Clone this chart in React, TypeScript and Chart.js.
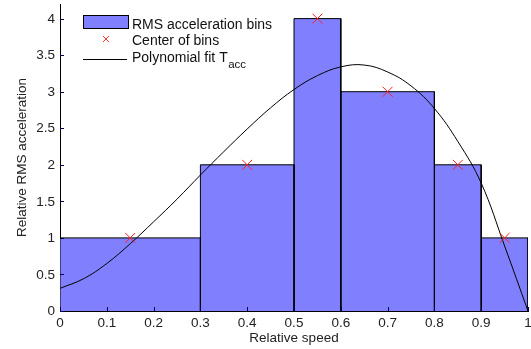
import React, { useEffect, useRef } from 'react';
import { Chart, registerables } from 'chart.js';

Chart.register(...registerables);

// ---- data ----
const binEdges = [0, 0.3, 0.5, 0.6, 0.8, 0.9, 1.0];
const binHeights = [1, 2, 4, 3, 2, 1];
const binCenters = [0.15, 0.4, 0.55, 0.7, 0.85, 0.95];
const centerValues = [1, 2, 4, 3, 2, 1];
const fitX = [0, 0.05, 0.1, 0.15, 0.2, 0.25, 0.3, 0.35, 0.4, 0.45, 0.5, 0.55, 0.6, 0.65, 0.7, 0.75, 0.8, 0.85, 0.9, 0.95, 1.0];
const fitY = [0.31, 0.44, 0.65, 0.92, 1.22, 1.53, 1.86, 2.18, 2.49, 2.78, 3.03, 3.22, 3.34, 3.365, 3.27, 3.08, 2.77, 2.32, 1.75, 0.89, 0.0];
const xTickValues = [0, 0.1, 0.2, 0.3, 0.4, 0.5, 0.6, 0.7, 0.8, 0.9, 1];
const yTickValues = [0, 0.5, 1, 1.5, 2, 2.5, 3, 3.5, 4];
const legendLabels = ['RMS acceleration bins', 'Center of bins', 'Polynomial fit T'];
const legendSubscript = 'acc';
const xTitle = 'Relative speed';
const yTitle = 'Relative RMS acceleration';

const FONT = "'Liberation Sans', Arial, Helvetica, sans-serif";
const BAR_FILL = 'rgb(128,128,255)';
const TEXT = '#222';

const fmt = (v: number) => String(Math.round(v * 10) / 10);

const axisDecor = {
  id: 'axisDecor',
  afterDatasetsDraw(chart: any) {
    const { ctx, chartArea, scales } = chart;
    ctx.save();
    // inward tick marks
    ctx.strokeStyle = '#000050';
    ctx.lineWidth = 1;
    ctx.beginPath();
    for (const v of xTickValues) {
      const px = Math.round(scales.x.getPixelForValue(v)) + 0.5;
      ctx.moveTo(px, chartArea.bottom);
      ctx.lineTo(px, chartArea.bottom - 4);
    }
    for (const v of yTickValues) {
      const py = Math.round(scales.y.getPixelForValue(v)) + 0.5;
      ctx.moveTo(chartArea.left, py);
      ctx.lineTo(chartArea.left + 4, py);
    }
    ctx.stroke();
    // tick labels
    ctx.fillStyle = TEXT;
    ctx.font = `13.5px ${FONT}`;
    ctx.textAlign = 'center';
    ctx.textBaseline = 'alphabetic';
    for (const v of xTickValues) {
      const px = scales.x.getPixelForValue(v);
      ctx.fillText(fmt(v), px, chartArea.bottom + 16);
    }
    ctx.textAlign = 'right';
    ctx.textBaseline = 'middle';
    for (const v of yTickValues) {
      const py = scales.y.getPixelForValue(v);
      ctx.fillText(fmt(v), chartArea.left - 5, py + 0.5);
    }
    ctx.restore();
  },
};

const customLegend = {
  id: 'customLegend',
  afterDraw(chart: any) {
    const { ctx } = chart;
    ctx.save();
    const x0 = 83;
    const x1 = 128;
    const tx = 132;
    // row 1: bar swatch
    ctx.fillStyle = BAR_FILL;
    ctx.fillRect(x0, 15, x1 - x0, 13);
    ctx.strokeStyle = '#000';
    ctx.lineWidth = 1;
    ctx.strokeRect(x0 + 0.5, 15.5, x1 - x0, 13);
    ctx.fillStyle = '#111';
    ctx.font = `14px ${FONT}`;
    ctx.textBaseline = 'alphabetic';
    ctx.textAlign = 'left';
    ctx.fillText(legendLabels[0], tx, 29);
    // row 2: marker
    ctx.strokeStyle = '#ff3030';
    ctx.beginPath();
    const mx = 106, my = 39, r = 3;
    ctx.moveTo(mx - r, my - r);
    ctx.lineTo(mx + r, my + r);
    ctx.moveTo(mx - r, my + r);
    ctx.lineTo(mx + r, my - r);
    ctx.stroke();
    ctx.fillText(legendLabels[1], tx, 45);
    // row 3: line
    ctx.strokeStyle = '#000';
    ctx.beginPath();
    ctx.moveTo(x0, 59.5);
    ctx.lineTo(x1 - 1, 59.5);
    ctx.stroke();
    ctx.fillText(legendLabels[2], tx, 62);
    const w = ctx.measureText(legendLabels[2]).width;
    ctx.font = `11.5px ${FONT}`;
    ctx.fillText(legendSubscript, tx + w + 0.5, 68);
    ctx.restore();
  },
};

export default function App() {
  const ref = useRef<HTMLCanvasElement | null>(null);

  useEffect(() => {
    if (!ref.current) return;
    const binDatasets = binHeights.map((h, i) => ({
      type: 'line' as const,
      label: legendLabels[0],
      data: [
        { x: binEdges[i], y: 0 },
        { x: binEdges[i], y: h },
        { x: binEdges[i + 1], y: h },
        { x: binEdges[i + 1], y: 0 },
      ],
      fill: 'origin',
      backgroundColor: BAR_FILL,
      borderColor: '#000',
      borderWidth: 1,
      pointRadius: 0,
      tension: 0,
      order: 3,
    }));

    const chart = new Chart(ref.current, {
      type: 'line',
      data: {
        datasets: [
          {
            label: legendLabels[1],
            data: binCenters.map((x, i) => ({ x, y: centerValues[i] })),
            showLine: false,
            pointStyle: 'crossRot',
            pointRadius: 7,
            pointBorderColor: '#ff2020',
            pointBorderWidth: 1,
            pointBackgroundColor: 'transparent',
            clip: false,
            order: 0,
          } as any,
          {
            label: legendLabels[2],
            data: fitX.map((x, i) => ({ x, y: fitY[i] })),
            borderColor: '#000',
            borderWidth: 1,
            pointRadius: 0,
            tension: 0.4,
            fill: false,
            order: 1,
          } as any,
          ...(binDatasets as any[]),
        ],
      },
      options: {
        animation: false,
        responsive: false,
        devicePixelRatio: 1,
        layout: { autoPadding: false, padding: { top: 4, right: 3, left: 0, bottom: 0 } },
        plugins: {
          legend: { display: false },
          tooltip: { enabled: false },
        },
        scales: {
          x: {
            type: 'linear',
            min: 0,
            max: 1,
            grid: { display: false, drawTicks: false },
            border: { display: true, color: '#000', width: 1 },
            afterBuildTicks: (scale: any) => {
              scale.ticks = xTickValues.map((v) => ({ value: v }));
            },
            afterFit: (scale: any) => {
              scale.height = 38;
            },
            ticks: { display: false },
            title: {
              display: true,
              text: xTitle,
              color: TEXT,
              font: { family: FONT, size: 13.5 },
              padding: { top: 0, bottom: 3 },
            },
          },
          y: {
            type: 'linear',
            min: 0,
            max: 4.2,
            grid: { display: false, drawTicks: false },
            border: { display: true, color: '#000', width: 1 },
            afterBuildTicks: (scale: any) => {
              scale.ticks = yTickValues.map((v) => ({ value: v }));
            },
            afterFit: (scale: any) => {
              scale.width = 60;
            },
            ticks: { display: false },
            title: {
              display: true,
              text: yTitle,
              color: TEXT,
              font: { family: FONT, size: 13.5 },
              padding: { top: 14, bottom: 0 },
            },
          },
        },
      },
      plugins: [axisDecor, customLegend],
    });
    return () => chart.destroy();
  }, []);

  return (
    <div style={{ position: 'fixed', left: 0, top: 0, width: 531, height: 349, background: '#fff' }}>
      <canvas ref={ref} width={531} height={349} style={{ display: 'block' }} />
    </div>
  );
}
